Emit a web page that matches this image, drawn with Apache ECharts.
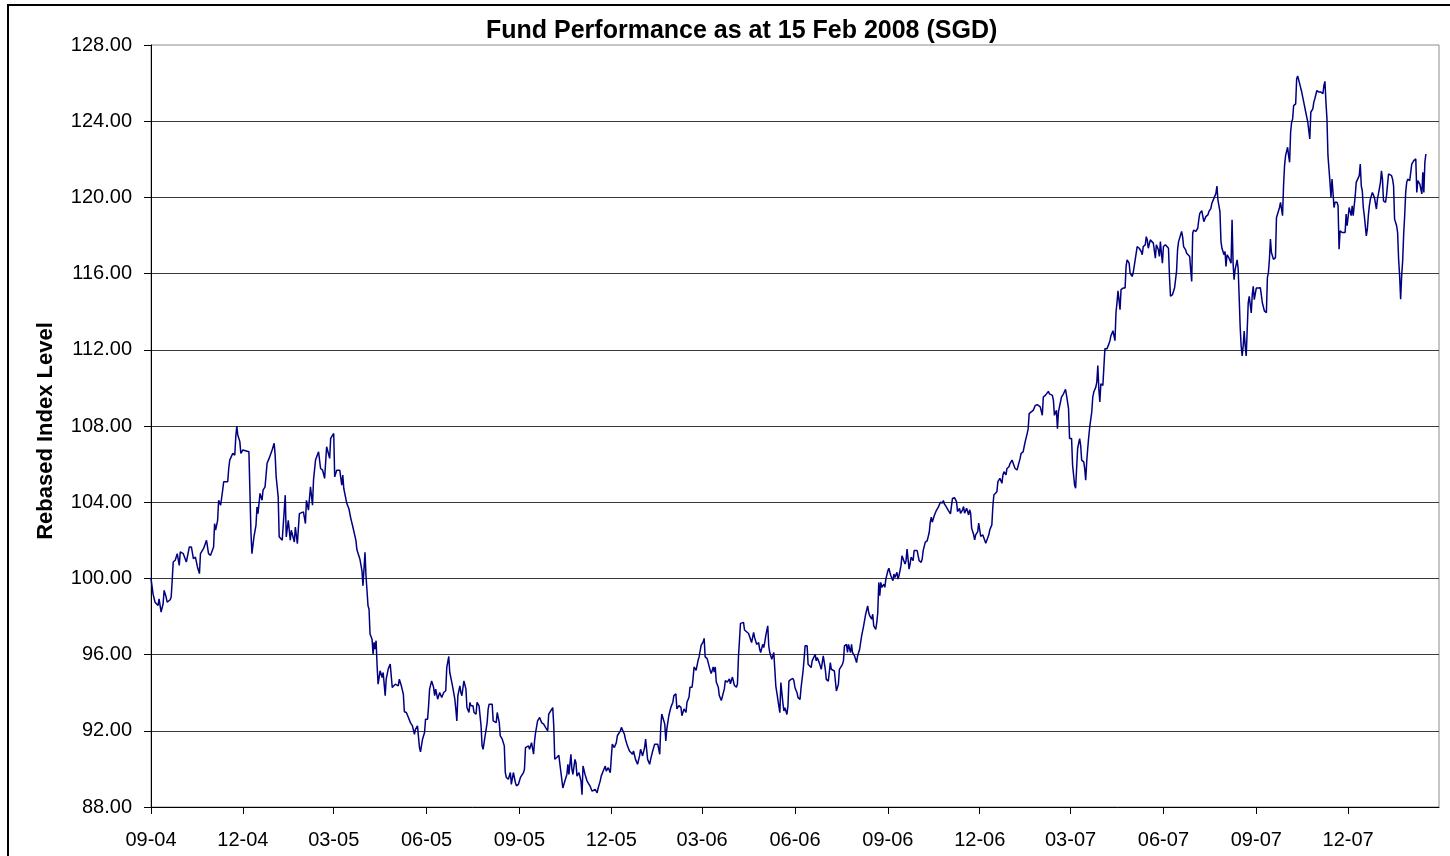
<!DOCTYPE html>
<html>
<head>
<meta charset="utf-8">
<title>Fund Performance</title>
<script src="https://cdn.jsdelivr.net/npm/echarts@6.0.0/dist/echarts.min.js"></script>
<style>
  html, body { margin: 0; padding: 0; background: #fff; }
  #chart-container { width: 1450px; height: 856px; }
</style>
</head>
<body>
<div id="chart-container"></div>
<script>
// Días contados desde el 1 de septiembre de 2004
const startDate = Date.UTC(2004, 8, 1);

const days = [
  0, 2, 4, 7, 8, 10, 12, 13, 15, 16, 19, 20,
  21, 22, 24, 26, 28, 29, 32, 35, 36, 38, 40, 42,
  44, 46, 48, 49, 52, 53, 55, 57, 59, 62, 63, 64,
  66, 67, 69, 71, 72, 76, 77, 78, 81, 83, 84, 85,
  86, 88, 89, 91, 97, 98, 99, 100, 102, 104, 105, 106,
  108, 110, 111, 113, 115, 117, 120, 122, 123, 124, 126, 127,
  130, 133, 134, 136, 138, 139, 142, 143, 145, 147, 151, 153,
  154, 156, 158, 160, 161, 163, 166, 168, 170, 172, 174, 177,
  178, 181, 182, 184, 187, 189, 190, 191, 194, 196, 198, 200,
  203, 204, 207,
  209, 210, 212, 213, 215, 216, 217, 219, 220, 221, 222, 223,
  224, 225, 227, 229, 230, 232, 233, 235, 237, 238, 239, 242,
  245, 246, 248, 250, 251, 253, 255, 257, 259, 261, 262, 264,
  266, 267, 269, 271, 272, 274, 275, 276, 278, 280, 281, 282,
  284, 285, 286, 288, 290, 292, 293, 295, 296, 298, 299, 301,
  302, 303, 304, 306, 307, 308, 310, 312, 313, 315, 316, 317,
  319, 320, 322, 323, 325, 327, 328, 329, 331, 333, 334, 335,
  338, 339, 340, 342, 343, 345, 346, 348, 350, 351, 352, 354,
  356, 357, 359, 361, 362, 364, 366, 367, 369, 370, 371, 374,
  375, 377, 379, 380, 381, 383, 385, 387, 389, 391, 393, 394,
  396, 398, 399, 400, 402, 404,
  407, 408, 410, 412, 413, 414, 416, 417, 418, 420, 421, 422,
  424, 426, 427, 428, 430, 432, 433, 435, 437, 438, 440, 442,
  443, 445, 446, 448, 450, 451, 453, 455, 456, 457, 459, 461,
  462, 465, 466, 467, 469, 470, 472, 474, 475, 477, 478, 480,
  482, 484, 485, 487, 489, 490, 492, 494, 495, 497, 499, 500,
  502, 504, 505, 506, 508, 509, 510, 511, 513, 515, 517, 518,
  520, 521, 523, 525, 526, 528, 530, 531, 533, 534, 536, 537,
  538, 540, 542, 543, 545, 547, 548, 549, 551, 552, 554, 555,
  557, 558, 559, 560, 562, 563, 565, 566, 568, 569, 571, 573,
  574, 576, 578, 580, 581, 582, 584, 585, 587, 588, 590, 592,
  593, 595, 597, 598, 600, 602, 603, 604, 606, 607, 608, 609,
  611, 612, 613, 614, 615, 617, 618, 619, 620, 621, 623, 624,
  625, 626, 627, 628, 630, 631, 632, 634, 636, 637, 638, 640,
  641, 643, 644, 646, 647, 648, 650, 651, 652, 654, 655, 656,
  658, 659, 660, 662, 663, 664, 666, 667, 668, 669, 670, 671,
  673, 674, 675, 677, 678, 679, 681, 682, 683, 685, 686, 687,
  689, 690, 691, 693, 694, 695, 697, 698, 699, 700, 702, 703,
  704, 706, 707, 708, 710, 711, 712, 714, 715, 716, 718, 719,
  720, 721, 722, 723, 724, 726, 727, 728, 730, 731, 732, 733,
  735, 736, 737, 739, 740, 741, 743, 744, 745, 747, 748, 749,
  751, 752, 753, 755, 756, 757, 759, 760, 761, 763, 764, 765,
  767, 768, 769, 771, 772, 773, 774, 776, 777, 778, 780, 781,
  782, 784, 785, 786, 788, 789, 790, 792,
  793, 794, 796, 798, 799, 801, 802, 804, 805, 806, 808, 810,
  811, 812, 813, 815, 816, 817, 819, 820, 822, 824, 825, 827,
  828, 830, 831, 833, 834, 835, 836, 838, 839, 841, 843, 844,
  845, 847, 848, 850, 851, 853, 854, 856, 858, 859, 861, 862,
  864, 865, 866, 868, 869, 870, 872, 874, 875, 876, 878, 879,
  881, 883, 884, 886, 887, 889, 890, 891, 893, 894, 895, 897,
  898, 899, 901, 902, 904, 906, 907, 908, 909, 910, 912, 913,
  914, 915, 916, 917, 918, 920, 921, 922, 924, 925, 926, 927,
  928, 929, 930, 932, 933, 934, 936, 937, 938, 939, 940, 941,
  942, 943, 945, 946, 947, 949, 950, 951, 953, 954, 955, 956,
  957, 958, 959,
  960, 961, 963, 965, 966, 967, 969, 970, 972, 973, 975, 977,
  978, 979, 981, 982, 983, 985, 986, 987, 988, 990, 991, 993,
  994, 995, 996, 998, 999, 1000, 1001, 1002, 1003, 1005, 1006, 1008,
  1009, 1010, 1012, 1014, 1015, 1016, 1017, 1018, 1020, 1021, 1022, 1023,
  1025, 1026, 1027, 1029, 1030, 1031, 1032, 1033, 1035, 1037, 1038, 1039,
  1041, 1042, 1043, 1045, 1047, 1048, 1050, 1051, 1053, 1055, 1056, 1057,
  1059, 1060, 1061, 1063, 1064, 1065, 1066, 1068, 1069, 1070, 1071, 1072,
  1073, 1074, 1076, 1077, 1078, 1079, 1080, 1081, 1082, 1083, 1084, 1085,
  1086, 1087, 1088, 1089, 1090, 1091, 1092, 1093, 1095, 1096, 1097,
  1099, 1100, 1101, 1103, 1105, 1106, 1107, 1108, 1109, 1110, 1112, 1114,
  1115, 1116, 1118, 1119, 1121, 1122, 1123, 1124, 1126, 1127, 1128, 1129,
  1130, 1131, 1132, 1134, 1135, 1136, 1138, 1139, 1140, 1142, 1143, 1144,
  1146, 1147, 1148, 1149, 1151, 1152, 1153, 1155, 1156, 1157, 1159, 1161,
  1162, 1163, 1164, 1165, 1166, 1167, 1168, 1169, 1170, 1171, 1172, 1173,
  1175, 1176, 1177, 1178, 1180, 1181, 1183, 1184, 1185, 1187, 1188, 1189,
  1190, 1191, 1193, 1194, 1195, 1197, 1198, 1199, 1200, 1201, 1202, 1204,
  1205, 1206, 1207, 1208, 1210, 1211, 1212, 1214, 1215, 1216, 1218, 1219,
  1220, 1221, 1223, 1224, 1226, 1227, 1229, 1230, 1231, 1232, 1234, 1235,
  1236, 1237, 1238, 1239, 1240, 1241, 1242, 1243, 1244, 1245, 1246, 1247,
  1249, 1250, 1251, 1253, 1254, 1255, 1257, 1258, 1259, 1260, 1261, 1262,
  1263
];

const values = [
  100.00, 99.19, 98.75, 98.58, 98.93, 98.23, 98.67, 99.37, 99.02, 98.75, 98.88, 99.02,
  99.89, 100.86, 100.95, 101.30, 100.68, 101.39, 101.30, 100.86, 100.86, 101.65, 101.65, 101.04,
  101.12, 100.60, 100.25, 101.30, 101.56, 101.47, 102.00, 101.30, 101.21, 101.65, 102.88, 102.53,
  103.05, 104.10, 103.84, 104.63, 105.07, 105.07, 105.77, 106.21, 106.56, 106.47, 107.44, 108.00,
  107.53, 107.18, 106.56, 106.74, 106.65, 106.56, 102.44, 101.30, 102.18, 102.79, 103.75, 103.40,
  104.46, 104.10, 104.63, 104.81, 106.04, 106.30, 106.74, 107.09, 106.47, 105.33, 104.28, 102.18,
  102.00, 104.37, 102.18, 103.05, 102.00, 102.53, 101.91, 102.70, 101.82, 103.40, 103.49, 102.88,
  104.10, 103.58, 104.81, 103.84, 105.16, 106.21, 106.65, 105.77, 105.68, 105.25, 106.91, 106.30,
  107.35, 107.61, 105.33, 105.68, 105.68, 104.89, 105.42, 104.72, 103.93, 103.67, 103.14, 102.70,
  102.00, 101.50, 101.00,
  100.40, 99.61, 101.37, 100.14, 98.56, 98.39, 97.08, 96.81, 96.02, 96.64, 96.29, 96.73,
  95.41, 94.45, 95.15, 94.80, 95.06, 93.84, 94.71, 95.24, 95.50, 95.59, 94.27, 94.45,
  94.36, 94.71, 94.36, 93.92, 93.00, 92.96, 92.70, 92.43, 92.26, 91.82, 92.08, 92.26,
  91.12, 90.89, 91.56, 91.91, 92.61, 92.61, 93.31, 94.19, 94.62, 94.27, 93.84, 94.19,
  93.66, 93.57, 94.01, 93.75, 94.01, 94.10, 95.32, 95.90, 95.06, 94.54, 94.27, 93.66,
  93.14, 92.52, 93.84, 94.36, 94.01, 93.84, 94.62, 94.19, 93.22, 92.96, 93.49, 93.31,
  93.31, 92.96, 92.87, 93.49, 93.31, 92.26, 91.21, 91.03, 91.73, 92.43, 93.14, 93.40,
  93.40, 92.52, 92.43, 92.43, 92.96, 92.43, 91.73, 91.56, 91.21, 89.81, 89.55, 89.46,
  89.81, 89.19, 89.81, 89.28, 89.11, 89.19, 89.55, 89.46, 89.81, 89.98, 91.12, 91.21,
  91.03, 91.38, 90.77, 91.47, 91.91, 92.52, 92.70, 92.43, 92.35, 92.17, 92.00, 92.87,
  93.05, 93.22, 92.26, 90.51, 90.60, 90.72,
  89.44, 89.00, 89.36, 89.71, 90.24, 89.71, 90.77, 89.97, 89.71, 90.50, 90.33, 89.62,
  89.80, 89.36, 88.65, 90.15, 89.71, 89.36, 89.44, 89.09, 88.83, 88.74, 88.92, 88.74,
  89.00, 89.36, 89.62, 89.89, 90.15, 89.89, 90.06, 89.80, 90.59, 91.30, 91.12, 91.38,
  91.74, 92.00, 92.18, 92.26, 91.82, 91.56, 91.21, 90.94, 91.03, 90.77, 90.94, 90.50,
  90.24, 90.68, 91.03, 90.68, 91.12, 91.56, 90.50, 90.24, 90.50, 90.94, 91.30, 91.21,
  91.30, 90.77, 92.18, 92.88, 92.53, 92.35, 91.47, 92.09, 92.79, 93.23, 93.50, 93.85,
  93.94, 93.15, 93.32, 93.23, 92.79, 93.15, 92.97, 93.50, 93.76, 94.29, 94.29, 94.73,
  95.35, 95.17, 95.70, 95.88, 96.49, 96.67, 96.85, 95.88, 95.79, 95.70, 95.17, 95.00,
  95.35, 95.08, 95.35, 94.56, 94.29, 93.85, 93.59, 93.59, 94.20, 94.64, 94.56, 94.73,
  94.47, 94.82, 94.38, 94.29, 94.47, 95.88, 97.64, 97.73, 97.69, 97.29, 97.20, 97.11,
  97.16, 96.63, 97.16, 96.89, 96.54, 96.63, 96.28, 96.11, 96.54, 96.37, 96.63, 96.98,
  97.51, 96.46, 96.11, 96.02, 95.75, 96.11, 95.23, 94.35, 94.00, 93.65, 92.95, 94.53,
  94.00, 93.47, 93.04, 93.21, 92.86, 93.30, 94.61, 94.70, 94.75, 94.61, 94.26, 94.00,
  93.74, 93.65, 94.26, 95.14, 95.75, 96.46, 96.46, 95.49, 95.40, 95.32, 95.67, 95.75,
  96.02, 95.67, 95.84, 95.58, 95.49, 95.23, 95.93, 96.02, 95.23, 94.70, 94.61, 94.61,
  95.58, 95.23, 95.32, 95.14, 95.14, 94.09, 94.44, 95.23, 95.32, 95.49, 95.67, 96.46,
  96.54, 96.11, 96.54, 96.11, 96.54, 96.11, 95.93, 95.84, 95.58, 95.93, 96.28, 96.19,
  96.98, 97.51, 97.60, 98.12, 98.56, 98.21, 98.04, 97.86, 98.12, 97.51, 97.33, 97.68,
  98.21, 99.79, 99.09, 99.79, 99.53, 99.70, 99.53, 99.96, 100.40, 100.53, 100.32, 100.14,
  99.88, 100.23, 100.05, 100.32, 99.96, 100.14, 100.67, 101.19, 101.11, 100.75, 100.93, 101.54,
  100.49, 100.75, 101.11, 100.93, 101.46, 101.54, 101.46, 101.19, 100.93, 100.84, 101.02, 101.46,
  101.89, 101.98, 101.98, 102.42, 102.95, 103.21, 102.95, 103.30, 103.21, 103.56, 103.74, 103.82,
  104.00, 103.96, 104.09, 103.91, 103.74, 103.82, 103.56, 103.39,
  103.33, 104.20, 104.24, 104.03, 103.51, 103.68, 103.42, 103.60, 103.77, 103.42, 103.68, 103.33,
  103.60, 103.42, 102.64, 102.29, 102.03, 102.29, 102.46, 102.90, 102.20, 102.29, 102.29, 101.85,
  101.94, 102.29, 102.55, 102.81, 103.77, 104.38, 104.47, 104.55, 105.08, 105.25, 104.99, 105.43,
  105.60, 105.43, 105.77, 105.86, 106.03, 106.21, 106.12, 105.77, 105.69, 105.60, 106.30, 106.56,
  106.64, 106.91, 107.17, 107.60, 107.86, 108.65, 108.74, 108.82, 108.91, 109.08, 109.12, 109.08,
  109.00, 108.56, 109.52, 109.61, 109.61, 109.82, 109.69, 109.78, 109.61, 109.35, 108.56, 108.82,
  107.86, 108.74, 109.26, 109.52, 109.69, 109.92, 109.61, 109.52, 108.91, 107.34, 107.34, 105.95,
  105.43, 104.90, 104.73, 105.77, 106.82, 107.34, 106.99, 106.21, 106.12, 105.77, 105.16, 106.12,
  106.82, 107.43, 107.95, 108.74, 109.52, 109.78, 110.04, 110.30, 111.17, 109.95, 109.26, 110.22,
  110.22, 110.13, 112.05, 112.13, 112.05, 112.31, 112.48, 112.74, 113.00, 112.74, 112.48, 113.96,
  114.48, 115.09, 115.18,
  114.11, 115.16, 115.24, 115.24, 116.38, 116.72, 116.55, 116.03, 115.85, 116.03, 116.72, 117.42,
  117.51, 117.33, 117.16, 116.99, 117.42, 117.51, 117.94, 117.77, 117.33, 117.77, 117.68, 117.60,
  117.68, 116.81, 117.51, 117.25, 116.90, 117.68, 117.07, 116.55, 117.42, 117.51, 117.42, 117.33,
  115.85, 114.81, 114.90, 115.24, 115.68, 116.12, 117.25, 117.68, 118.03, 118.21, 117.94, 117.42,
  117.25, 117.07, 117.16, 116.90, 116.20, 115.59, 118.12, 118.29, 118.21, 118.38, 118.82, 119.16,
  119.30, 119.34, 118.73, 118.99, 119.08, 119.25, 119.43, 119.69, 119.95, 120.21, 120.59, 119.86,
  119.25, 117.68, 117.33, 116.99, 117.16, 116.38, 116.99, 116.81, 116.90, 116.55, 118.82, 116.55,
  115.68, 116.20, 116.72, 116.29, 114.81, 113.24, 112.20, 111.68, 112.20, 112.98, 112.20, 111.68,
  113.07, 114.46, 114.81, 114.90, 113.94, 114.90, 115.33, 114.63, 115.24, 115.16, 115.24,
  115.26, 115.18, 114.47, 114.04, 113.95, 115.79, 116.05, 116.75, 117.81, 117.11, 116.75, 116.84,
  118.95, 119.12, 119.47, 119.74, 119.04, 120.61, 121.67, 122.19, 122.63, 122.19, 121.84, 123.42,
  123.95, 124.12, 124.82, 124.91, 126.23, 126.37, 125.96, 126.05, 125.53, 125.00, 125.00, 124.47,
  123.95, 123.51, 123.07, 124.47, 124.65, 125.00, 125.18, 125.61, 125.70, 125.53, 125.53, 125.44,
  125.88, 126.09, 125.00, 124.12, 122.19, 121.49, 120.79, 120.00, 120.96, 120.26, 119.47, 119.74,
  119.74, 119.56, 117.28, 118.25, 118.16, 118.07, 118.16, 119.12, 118.51, 119.47, 119.56, 119.04,
  119.56, 119.04, 120.09, 120.79, 120.88, 121.14, 121.75, 120.61, 120.35, 119.47, 119.04, 117.98,
  118.33, 119.04, 119.56, 119.91, 120.26, 120.18, 120.00, 119.39, 119.91, 120.18, 120.79, 121.40,
  120.96, 119.82, 119.74, 120.09, 121.23, 121.23, 121.14, 120.96, 120.61, 118.86, 118.51, 118.16,
  116.75, 115.88, 114.65, 115.88, 116.67, 118.07, 119.04, 120.26, 120.79, 120.96, 121.05, 120.88,
  121.75, 121.84, 121.93, 122.02, 120.26, 120.88, 120.70, 120.44, 120.18, 121.32, 120.26, 121.84,
  122.28
];

const tickLabels = ['09-04', '12-04', '03-05', '06-05', '09-05', '12-05', '03-06',
                    '06-06', '09-06', '12-06', '03-07', '06-07', '09-07', '12-07'];

// Posición de cada etiqueta (primer día del mes) en días desde el inicio
const tickDays = tickLabels.map(label => {
    const [mm, yy] = label.split('-').map(Number);
    return (Date.UTC(2000 + yy, mm - 1, 1) - startDate) / 86400000;
});

if (days.length !== values.length) {
    console.error('days/values length mismatch', days.length, values.length);
}

function initChart() {
    const chartDom = document.getElementById('chart-container');
    const myChart = echarts.init(chartDom);
    const font = "'Liberation Sans', Arial, sans-serif";

    const option = {
        animation: false,
        backgroundColor: '#fff',
        textStyle: { fontFamily: font },
        title: {
            text: 'Fund Performance as at 15 Feb 2008 (SGD)',
            left: 486,
            top: 19,
            padding: 0,
            textStyle: { fontFamily: font, fontSize: 25, fontWeight: 'bold', color: '#000' }
        },
        graphic: [{
            type: 'rect',
            shape: { x: 8, y: 5, width: 1500, height: 900 },
            style: { fill: 'none', stroke: '#000', lineWidth: 2 },
            silent: true
        }],
        grid: {
            left: 151,
            top: 45,
            width: 1288,
            height: 762,
            show: true,
            borderColor: '#8c8c8c',
            borderWidth: 1,
            backgroundColor: '#fff'
        },
        xAxis: {
            type: 'value',
            min: 0,
            max: 1276,
            axisLine: { show: true, lineStyle: { color: '#000', width: 1 } },
            axisTick: { show: true, length: 7, customValues: tickDays, lineStyle: { color: '#000' } },
            axisLabel: {
                customValues: tickDays,
                formatter: v => tickLabels[tickDays.indexOf(v)] || '',
                fontSize: 20,
                color: '#000',
                margin: 23,
                fontFamily: font
            },
            splitLine: { show: false }
        },
        yAxis: {
            type: 'value',
            min: 88,
            max: 128,
            interval: 4,
            name: 'Rebased Index Level',
            nameLocation: 'middle',
            nameRotate: 90,
            nameGap: 94,
            nameTextStyle: {
                fontSize: 22,
                fontWeight: 'bold',
                color: '#000',
                fontFamily: font,
                padding: [0, 10, 0, 0]
            },
            axisLine: { show: true, lineStyle: { color: '#000', width: 1 } },
            axisTick: { show: true, length: 7, lineStyle: { color: '#000' } },
            axisLabel: {
                formatter: v => v.toFixed(2),
                fontSize: 20,
                color: '#000',
                margin: 19,
                fontFamily: font
            },
            splitLine: {
                show: true,
                showMinLine: false,
                showMaxLine: false,
                lineStyle: { color: '#3a3a3a', width: 1 }
            }
        },
        series: [{
            name: 'Fund',
            type: 'line',
            showSymbol: false,
            symbol: 'none',
            data: days.map((d, i) => [d, values[i]]),
            lineStyle: { color: '#000080', width: 1.5 }
        }]
    };

    myChart.setOption(option);
}

initChart();
</script>
</body>
</html>
